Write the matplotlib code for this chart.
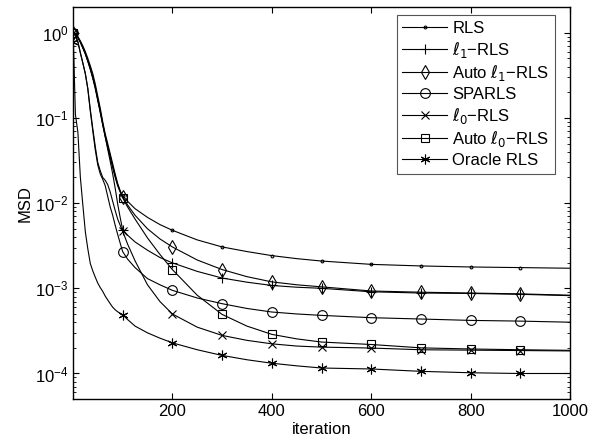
import matplotlib
matplotlib.use("Agg")
import matplotlib.pyplot as plt

plt.rcParams['font.family'] = ['Liberation Sans', 'DejaVu Sans']
plt.rcParams['mathtext.fontset'] = 'dejavusans'

iters = [1, 5, 10, 15, 20, 25, 30, 35, 40, 45, 50, 55, 60, 65, 70, 75, 80, 85, 90, 95, 100,
         110, 125, 150, 175, 200, 250, 300, 350, 400, 450, 500, 600, 700, 800, 900, 1000]

msd_rls = [1.0, .97, .90, .80, .70, .60, .50, .41, .33, .25, .18, .13, .09, .065, .05, .038, .029, .022, .017, .014, .0122,
           .0105, .0086, .0068, .0056, .0048, .0037, .00306, .0027, .00242, .00223, .00209, .00191, .00183, .00178, .00175, .00172]
msd_l1 = [1.0, .96, .88, .78, .67, .57, .47, .38, .30, .23, .165, .12, .085, .06, .043, .031, .022, .015, .0098, .0068, .0049,
          .0042, .0035, .0028, .0023, .00199, .00158, .00132, .00118, .00108, .00103, .001, .00091, .00088, .00087, .00085, .00082]
msd_auto_l1 = [1.0, .96, .88, .78, .67, .57, .47, .38, .30, .23, .165, .12, .085, .062, .047, .036, .027, .021, .0165, .0138, .0119,
               .0095, .0072, .005, .0038, .00306, .00215, .00166, .00137, .00119, .0011, .00104, .00093, .0009, .00088, .00086, .00083]
msd_sparls = [1.0, .93, .78, .58, .44, .33, .22, .12, .07, .042, .028, .022, .019, .016, .012, .009, .0072, .0055, .0043, .0034, .0027,
              .0022, .00175, .0013, .0011, .000947, .00077, .00066, .00058, .000527, .0005, .000481, .000452, .000436, .00042, .000412, .0004]
msd_l0 = [1.0, .93, .78, .58, .44, .33, .22, .125, .075, .046, .030, .024, .020, .0185, .0165, .0135, .0105, .0082, .0065, .0055, .0047,
          .0033, .0021, .0011, .0007, .0005, .00035, .00028, .000245, .000223, .00021, .000204, .000199, .00019, .000188, .000186, .000184]
msd_auto_l0 = [1.0, .96, .87, .77, .66, .56, .46, .37, .29, .22, .16, .115, .082, .06, .045, .034, .026, .02, .016, .0135, .0116,
               .009, .0065, .0039, .0025, .00166, .00083, .000494, .00036, .000288, .000255, .000234, .000219, .0002, .000194, .00019, .000187]
msd_oracle = [.77, .11, .068, .02, .0095, .0046, .0029, .00195, .0016, .00135, .00115, .00102, .00092, .00081, .00073, .00066, .0006, .00056, .00053, .00051, .00049,
              .00043, .00036, .0003, .00026, .000229, .00019, .000163, .000145, .000132, .000123, .000116, .000113, .000106, .000102, .0001, .0001]

labels = ['RLS', r'$\ell_1$−RLS', r'Auto $\ell_1$−RLS', 'SPARLS', r'$\ell_0$−RLS', r'Auto $\ell_0$−RLS', 'Oracle RLS']
series = [msd_rls, msd_l1, msd_auto_l1, msd_sparls, msd_l0, msd_auto_l0, msd_oracle]
markers = ['.', '+', 'd', 'o', 'x', 's', (6, 2, 0)]
msizes = [4, 7, 7, 7, 6, 6, 7]

mark_at = [1, 100, 200, 300, 400, 500, 600, 700, 800, 900]
mark_idx = [iters.index(v) for v in mark_at]

fig = plt.figure(figsize=(5.92, 4.43), dpi=100)
ax = fig.add_axes([0.124, 0.099, 0.839, 0.885])

for y, lab, m, ms in zip(series, labels, markers, msizes):
    ax.semilogy(iters, y, color='black', lw=0.8, marker=m, ms=ms, mfc='none',
                mec='black', mew=0.8, markevery=mark_idx, label=lab)

ax.set_xlim(1, 1000)
ax.set_ylim(5e-5, 2)
ax.set_xticks([200, 400, 600, 800, 1000])
ax.tick_params(which='both', direction='in', top=True, right=True, labelsize=12)
ax.tick_params(which='major', length=4, width=0.8)
ax.tick_params(which='minor', length=2, width=0.6)
for s in ax.spines.values():
    s.set_linewidth(1.0)

ax.set_xlabel('iteration', fontsize=12, labelpad=2)
ax.set_ylabel('MSD', fontsize=12, labelpad=2)

# legend box sits a bit inside the upper right corner
leg = ax.legend(loc='upper right', bbox_to_anchor=(555 / 592, 1 - 15 / 443),
                bbox_transform=fig.transFigure, fontsize=12, fancybox=False, framealpha=1,
                edgecolor='#555555', borderpad=0.35, labelspacing=0.22,
                handlelength=2.7, handletextpad=0.3, borderaxespad=0)
leg.get_frame().set_linewidth(0.8)

fig.savefig('out.png', dpi=100)
